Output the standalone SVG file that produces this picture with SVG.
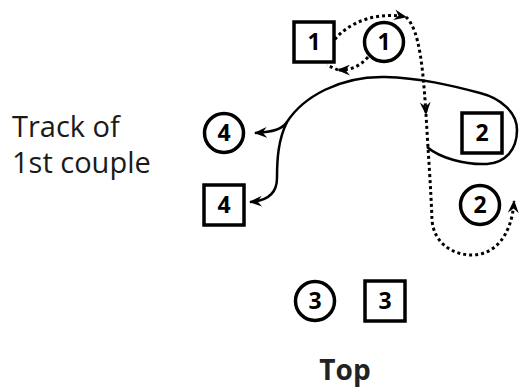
<svg xmlns="http://www.w3.org/2000/svg" width="521" height="390" viewBox="0 0 521 390">
<style>
.box{fill:#fff;stroke:#000;stroke-width:3.5}
.ring{fill:#fff;stroke:#000;stroke-width:3.5}
.num{font-family:"Open Sans","Liberation Sans",sans-serif;font-size:23px;font-weight:700;fill:#000;text-anchor:middle}
.lbl{font-family:"Open Sans","Liberation Sans",sans-serif;font-size:29px;fill:#1a1a1a}
.top{font-family:"Open Sans","Liberation Sans",sans-serif;font-size:28px;font-weight:700;fill:#222;text-anchor:middle}
.solid{fill:none;stroke:#000;stroke-width:2.5}
.dot{fill:none;stroke:#000;stroke-width:3;stroke-dasharray:3 3}
</style>
<defs>
<marker id="ah" viewBox="0 0 12 10" refX="11" refY="5" markerWidth="13" markerHeight="11" markerUnits="userSpaceOnUse" orient="auto">
<path d="M0,0 L12,5 L0,10 L4,5 z" fill="#000"/>
</marker>
</defs>
<g id="connectors">
<path class="solid" d="M427,147 C440,158 465,165 487,164 C505,163 517,150 517,130 C517,112 500,98 480,93 C450,85 420,78 385,77 C340,76 303,97 287,122 C278,140 277,160 277,178 C277,195 266,201 250,202" marker-end="url(#ah)"/>
<path class="solid" d="M287,122 C282,129 274,132 255,133" marker-end="url(#ah)"/>
<path class="dot" d="M326,55 C335,28 370,10 406,17" marker-end="url(#ah)"/>
<path class="dot" d="M406,17 C420,30 423,70 426,114" marker-end="url(#ah)"/>
<path class="dot" d="M426,114 C428,150 431,190 432,220 C434,245 455,255 472,255 C495,255 512,235 514,201" marker-end="url(#ah)"/>
<path class="dot" d="M368,57 C360,66 352,70 338,70" marker-end="url(#ah)"/>
<path class="dot" d="M338,70 L327,65"/>
</g>
<g id="sq1"><rect class="box" x="294" y="22" width="40" height="40"/><text class="num" x="314" y="50">1</text></g>
<g id="c1"><circle class="ring" cx="384" cy="42" r="19.5"/><text class="num" x="384" y="50">1</text></g>
<g id="sq2"><rect class="box" x="462" y="113" width="40" height="40"/><text class="num" x="482" y="141">2</text></g>
<g id="c2"><circle class="ring" cx="480" cy="205" r="19.5"/><text class="num" x="480" y="213">2</text></g>
<g id="c3"><circle class="ring" cx="315" cy="301" r="19.5"/><text class="num" x="315" y="309">3</text></g>
<g id="sq3"><rect class="box" x="365" y="281" width="40" height="40"/><text class="num" x="385" y="309">3</text></g>
<g id="c4"><circle class="ring" cx="224" cy="133" r="19.5"/><text class="num" x="224" y="141">4</text></g>
<g id="sq4"><rect class="box" x="204" y="185" width="40" height="40"/><text class="num" x="224" y="213">4</text></g>
<g id="labels">
<text class="lbl" x="12" y="137">Track of</text>
<text class="lbl" x="12" y="173">1st couple</text>
<text class="top" x="345" y="380">Top</text>
</g>
</svg>
